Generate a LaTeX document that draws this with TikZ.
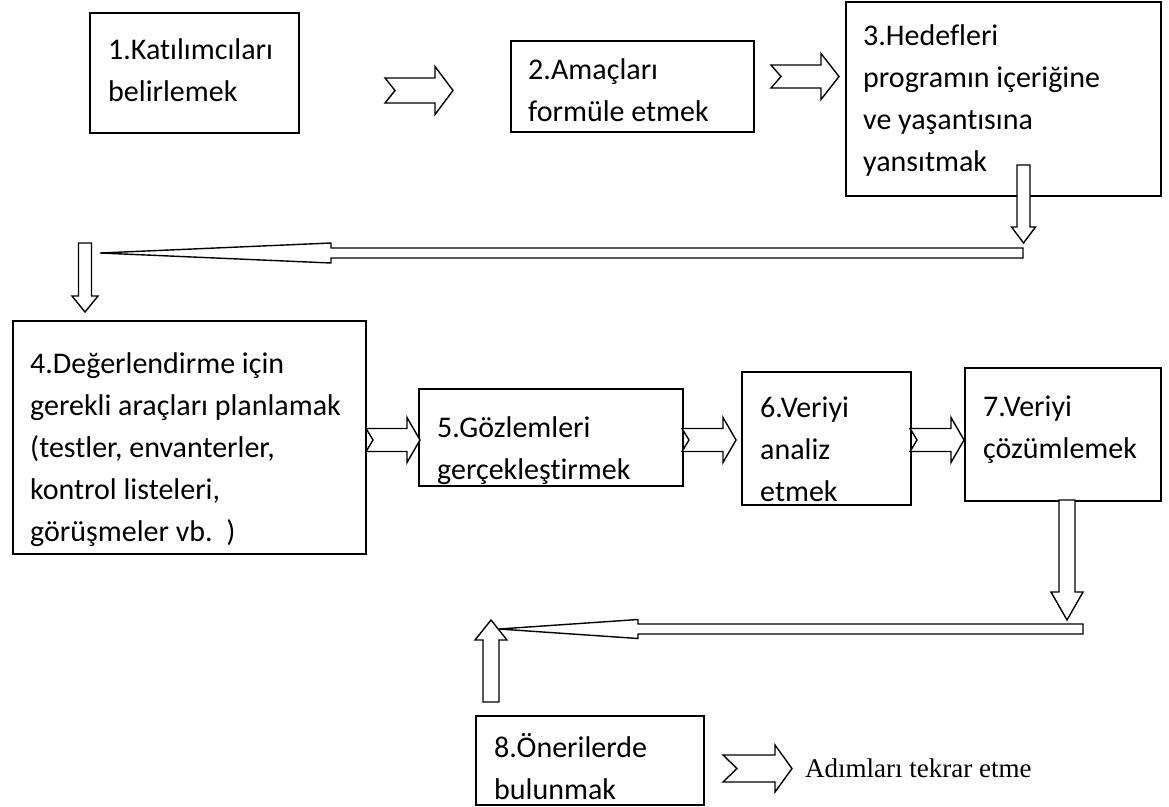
\documentclass[tikz,border=0pt]{standalone}
\usepackage{fontspec}
\setmainfont{Carlito}[Ligatures=NoCommon]
\newfontfamily\serifnote{Liberation Serif}
\usetikzlibrary{positioning, calc}

\tikzset{
  stepbox/.style={draw, line width=1.5pt, rectangle, anchor=north west, inner sep=0pt},
  steptext/.style={anchor=north west, align=left, inner sep=0pt,
    font=\fontsize{30}{42}\selectfont, execute at begin node=\strut},
  pics/blockarrow/.style args={#1/#2/#3/#4/#5}{code={
    \draw[line width=1.4pt, line join=miter, fill=white]
      (0,-#2) -- (#1-#4,-#2) -- (#1-#4,-#3) -- (#1,0) -- (#1-#4,#3)
      -- (#1-#4,#2) -- (0,#2) -- (#5,0) -- cycle;
  }},
}

\begin{document}
\begin{tikzpicture}[x=1pt, y=-1pt]
  \useasboundingbox[fill=white] (0,0) rectangle (1169,806);

  % boxes and their texts
  \foreach \n/\x/\y/\w/\h/\tx/\ty/\txt in
    {1/89/12/209/120/108/38/{1.Katılımcıları\\belirlemek},
     2/510/40/243/91/528/58/{2.Amaçları\\formüle etmek},
     3/845/1/315/194/863/24/{3.Hedefleri\\programın içeriğine\\ve yaşantısına\\yansıtmak},
     4/12/320/353/233/30/352/{4.Değerlendirme için\\gerekli araçları planlamak\\(testler, envanterler,\\kontrol listeleri,\\görüşmeler vb.~~)},
     5/418/388/264/97/437/416/{5.Gözlemleri\\gerçekleştirmek},
     6/741/371/169/133/760/397/{6.Veriyi\\analiz\\etmek},
     7/964/367/196/133/983/396/{7.Veriyi\\çözümlemek},
     8/475/715/228/89/494/733/{8.Önerilerde\\bulunmak}}{
    \node[stepbox, minimum width=\w pt, minimum height=\h pt] (b\n) at (\x,\y) {};
    \node[steptext] (t\n) at (\tx,\ty) {\txt};
  }

  % top row
  \pic at (385,90.5) {blockarrow=68/12.5/24/18/10};
  \pic at (771,76.5) {blockarrow=68/11.5/23/18/10};

  % back to the second row
  \pic[rotate=180] at (1023,253) {blockarrow=923/5/10/231/0};
  \pic[rotate=-90] at (1023.5,165) {blockarrow=78/6.5/12/16/0};
  \pic[rotate=-90] at (85,243) {blockarrow=69/6.5/13/16/0};

  % second row
  \foreach \xa in {366,682,910}
    \pic at (\xa,440) {blockarrow=54/11.5/22.5/13/7};

  % down to step 8
  \pic[rotate=180] at (1083,629) {blockarrow=584/5/9.5/139/0};
  \pic[rotate=-90] at (1067,500) {blockarrow=120/8/16/28/0};
  \pic[rotate=90] at (491,702) {blockarrow=82/8/16/20/0};

  \pic at (723,768.5) {blockarrow=69/13.5/23.5/17/14};
  \node[font=\serifnote\fontsize{27}{34}\selectfont, anchor=west, inner sep=0pt]
    (note) at (805,768) {Adımları tekrar etme};
\end{tikzpicture}
\end{document}
